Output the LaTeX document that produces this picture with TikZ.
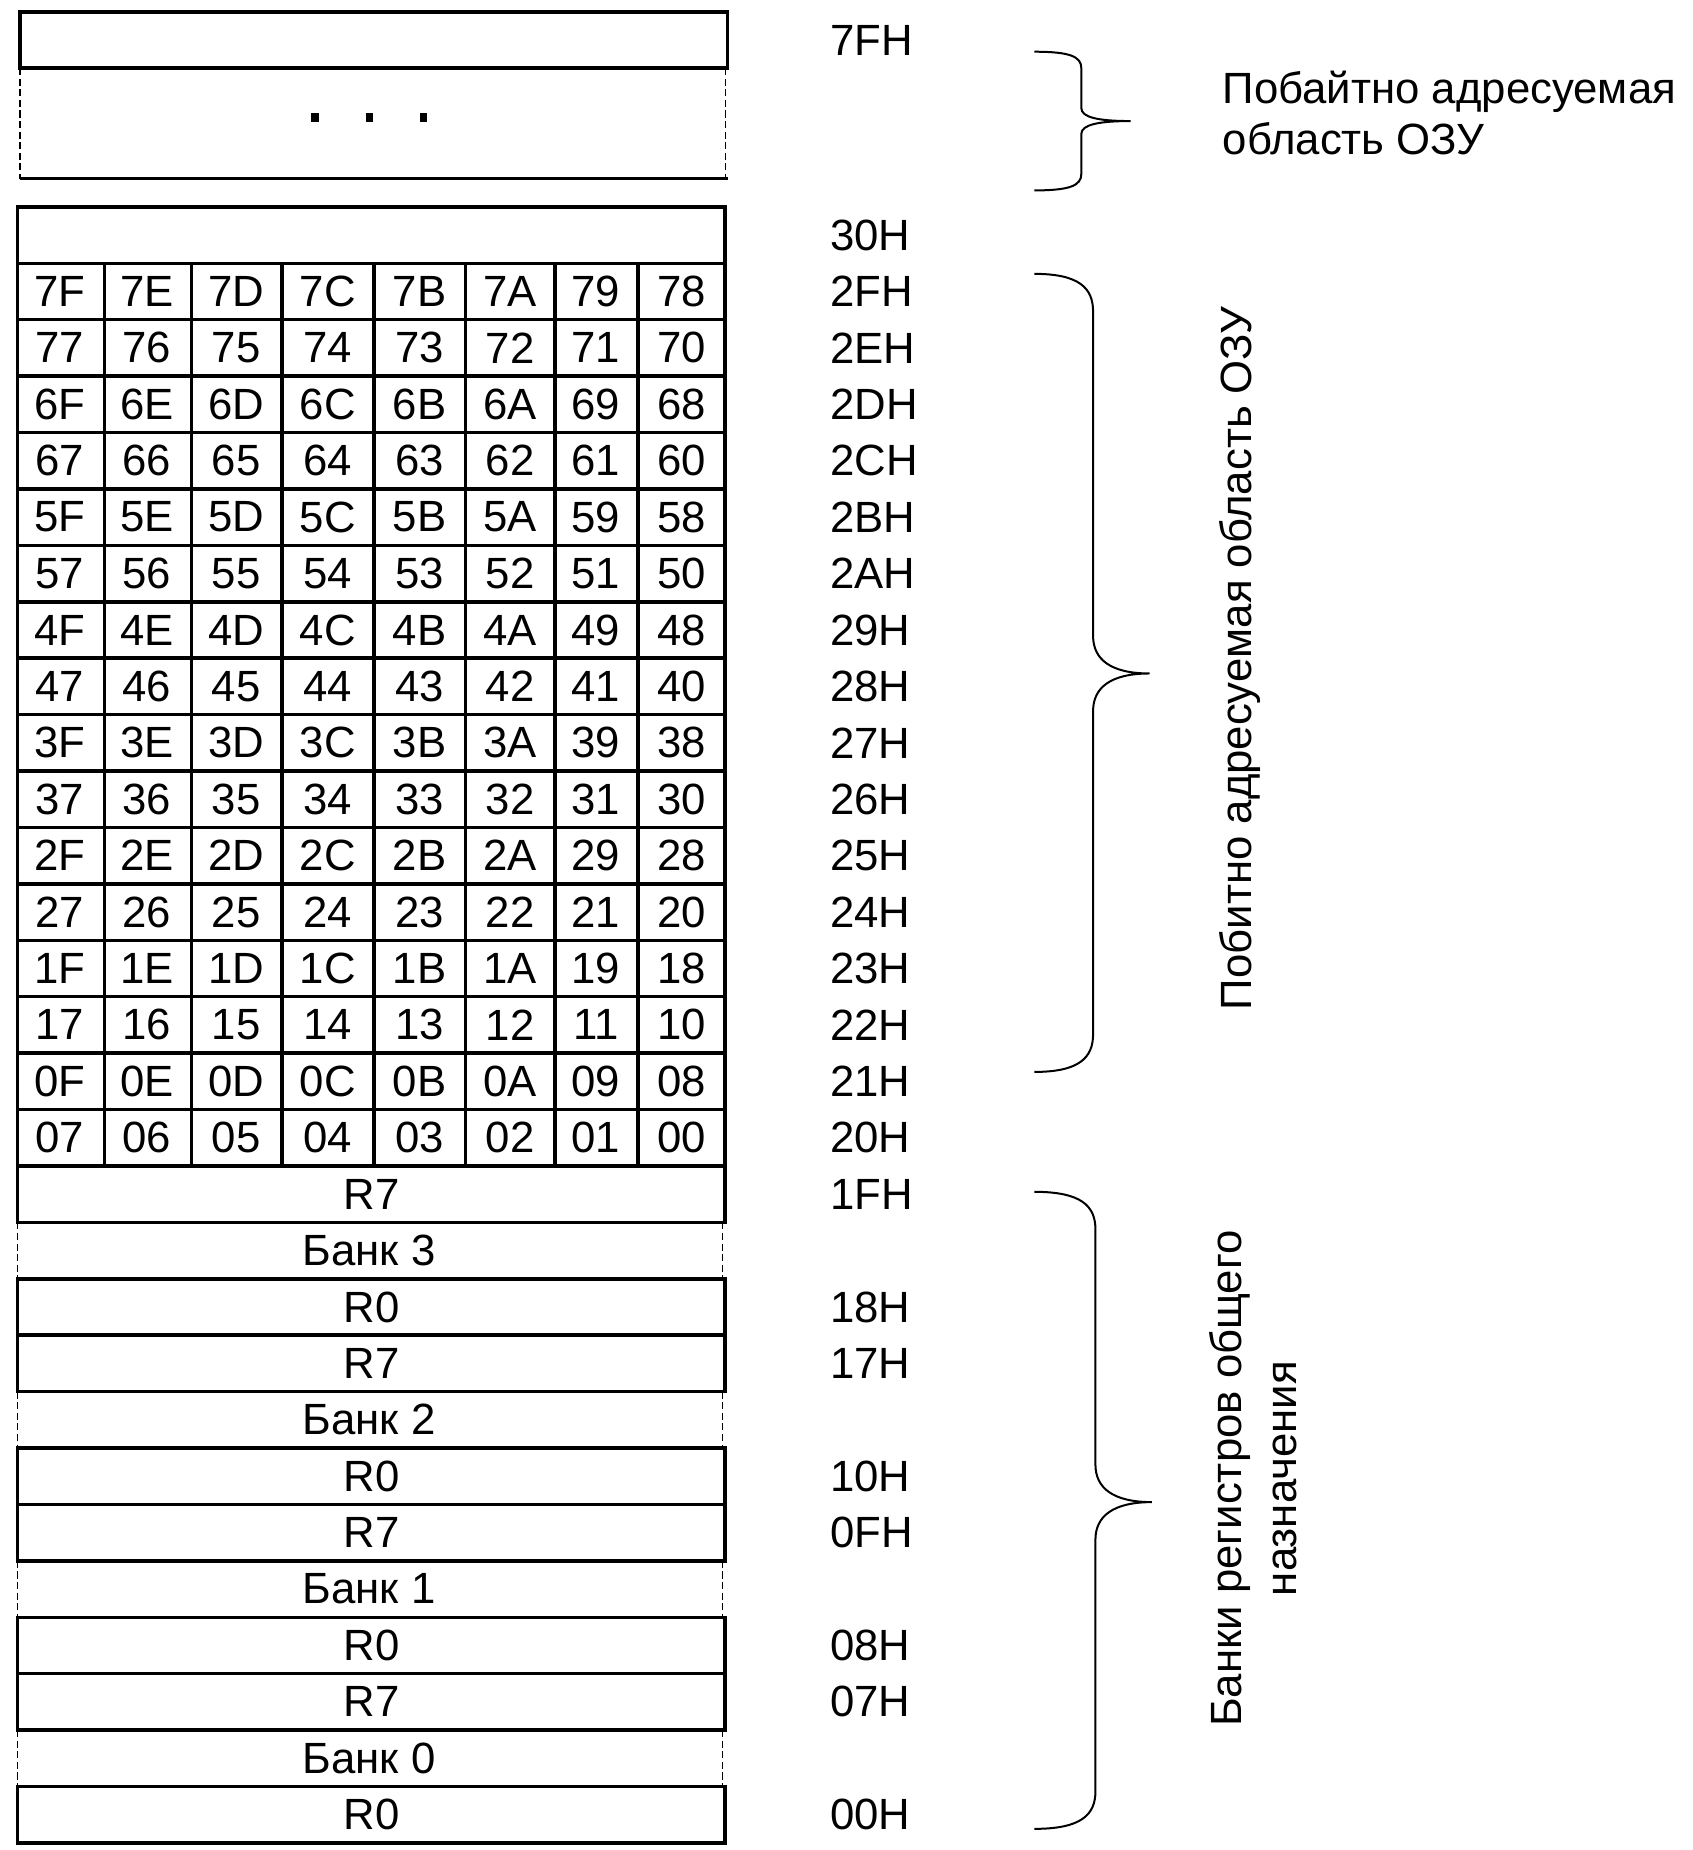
\documentclass[tikz,border=0pt]{standalone}
\usepackage{fontspec}
\setmainfont{Liberation Sans}
\begin{document}
\begin{tikzpicture}[x=0.5pt,y=-0.5pt,
  box/.style={line width=1.5pt},
  dsh/.style={line width=0.5pt,dash pattern=on 3pt off 1.5pt},
  brc/.style={line width=0.85pt},
  lbl/.style={inner sep=0pt,font=\fontsize{18.6}{21.5}\selectfont},
  adr/.style={lbl,anchor=west}]
\useasboundingbox (0,0) rectangle (1440,1574);

% --- top: byte-addressable area ---
\draw[box] (17,10) rectangle (619,58);
\draw[dsh] (17,58) -- (17,152);
\draw[dsh] (617,58) -- (617,152);
\draw[box] (17,152) -- (619,152);
\fill (265,96) rectangle (271,104);
\fill (311,96) rectangle (317,104);
\fill (357,96) rectangle (363,104);
\node[adr] (a7F) at (706,34) {7FH};

% --- 30H row ---
\draw[box] (15,176) rectangle (617,224);
\node[adr] (a30) at (706,200) {30H};

% --- bit-addressable grid ---
\draw[box] (15,224) rectangle (617,992);
\foreach \k in {1,...,15} \draw[box] (15,{224+48*\k}) -- (617,{224+48*\k});
\foreach \x in {89,163,240,318,396,472,543} \draw[box] (\x,224) -- (\x,992);
\foreach \r in {0,...,15}{
  \pgfmathtruncatemacro\yc{248+48*\r}
  \pgfmathtruncatemacro\av{47-\r}
  \pgfmathparse{Hex(\av)}\edef\ahx{\pgfmathresult}
  \node[adr] (g\r) at (706,\yc) {\ahx H};
  \foreach \c/\xc in {0/51,1/125,2/201,3/279,4/357,5/434,6/507,7/580}{
    \pgfmathtruncatemacro\v{8*(15-\r)+7-\c}
    \pgfmathparse{Hex(\v)}\edef\hx{\pgfmathresult}
    \node[lbl] (c\r-\c) at (\xc,\yc) {\ifnum\v<16 0\fi\hx};
  }
}

% --- register banks ---
\draw[box] (15,992) rectangle (617,1040);
\node[lbl] (r37) at (316,1016) {R7};
\node[adr] (a1F) at (706,1016) {1FH};
\draw[dsh] (15,1040) -- (15,1088);
\draw[dsh] (615,1040) -- (615,1088);
\node[lbl] (b3) at (314,1064) {Банк 3};
\draw[box] (15,1088) rectangle (617,1136);
\node[lbl] (r30) at (316,1112) {R0};
\node[adr] (a18) at (706,1112) {18H};

\draw[box] (15,1136) rectangle (617,1184);
\node[lbl] (r27) at (316,1160) {R7};
\node[adr] (a17) at (706,1160) {17H};
\draw[dsh] (15,1184) -- (15,1232);
\draw[dsh] (615,1184) -- (615,1232);
\node[lbl] (b2) at (314,1208) {Банк 2};
\draw[box] (15,1232) rectangle (617,1280);
\node[lbl] (r20) at (316,1256) {R0};
\node[adr] (a10) at (706,1256) {10H};

\draw[box] (15,1280) rectangle (617,1328);
\node[lbl] (r17) at (316,1304) {R7};
\node[adr] (a0F) at (706,1304) {0FH};
\draw[dsh] (15,1328) -- (15,1376);
\draw[dsh] (615,1328) -- (615,1376);
\node[lbl] (b1) at (314,1352) {Банк 1};
\draw[box] (15,1376) rectangle (617,1424);
\node[lbl] (r10) at (316,1400) {R0};
\node[adr] (a08) at (706,1400) {08H};

\draw[box] (15,1424) rectangle (617,1472);
\node[lbl] (r07) at (316,1448) {R7};
\node[adr] (a07) at (706,1448) {07H};
\draw[dsh] (15,1472) -- (15,1520);
\draw[dsh] (615,1472) -- (615,1520);
\node[lbl] (b0) at (314,1496) {Банк 0};
\draw[box] (15,1520) rectangle (617,1568);
\node[lbl] (r00) at (316,1544) {R0};
\node[adr] (a00) at (706,1544) {00H};

% --- braces ---
\draw[brc] (880,44) .. controls (910,44) and (920,48) .. (920,58) -- (920,92)
  .. controls (920,100) and (935,103) .. (962,103)
  .. controls (935,103) and (920,106) .. (920,114) -- (920,148)
  .. controls (920,158) and (910,162) .. (880,162);
\draw[brc] (880,233) .. controls (918,233) and (930,245) .. (930,265) -- (930,541)
  .. controls (930,561) and (945,573) .. (978,573)
  .. controls (945,573) and (930,585) .. (930,605) -- (930,880)
  .. controls (930,900) and (918,912) .. (880,912);
\draw[brc] (880,1014) .. controls (920,1014) and (932,1026) .. (932,1046) -- (932,1246)
  .. controls (932,1266) and (947,1278) .. (980,1278)
  .. controls (947,1278) and (932,1290) .. (932,1310) -- (932,1524)
  .. controls (932,1544) and (920,1556) .. (880,1556);

% --- descriptions ---
\node[lbl,anchor=west,align=left] (t1) at (1040,96) {Побайтно адресуемая\\область ОЗУ};
\node[lbl,rotate=90] (t2) at (1055,560) {Побитно адресуемая область ОЗУ};
\node[inner sep=0pt,rotate=90,align=center,font=\fontsize{18.6}{23.5}\selectfont] (t3) at (1066,1258) {Банки регистров общего\\назначения};
\end{tikzpicture}
\end{document}
